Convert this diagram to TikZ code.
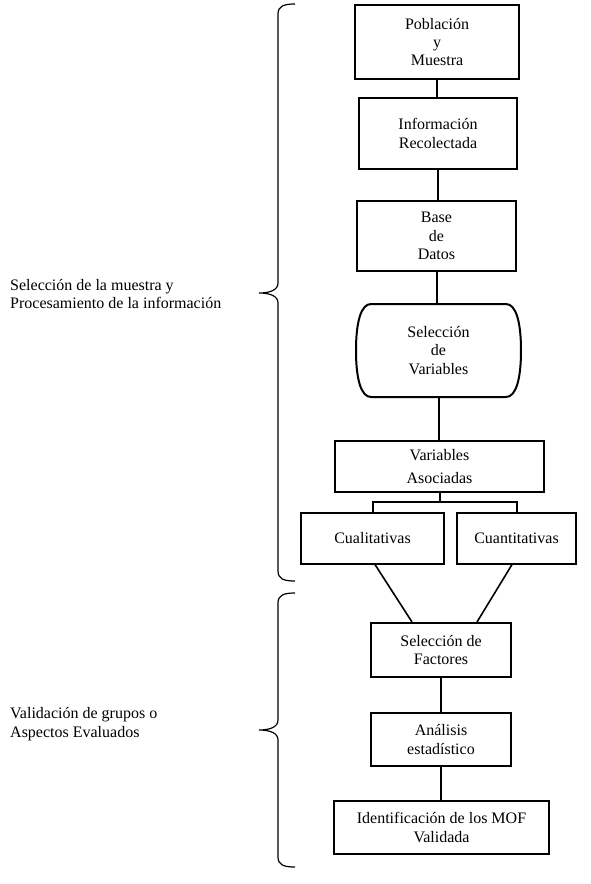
\documentclass[tikz,border=0pt]{standalone}
\usepackage{fontspec}
\setmainfont{Liberation Serif}
\begin{document}
\begin{tikzpicture}[x=1pt,y=-1pt,
  every node/.style={font=\fontsize{16}{18.4}\selectfont, align=center, inner sep=0pt},
  tbox/.style={draw, line width=2pt},
  nbox/.style={draw, line width=1.1pt},
  conn/.style={line width=2pt},
  diag/.style={line width=1.6pt},
  bracepath/.style={line width=1.2pt},
  lab/.style={anchor=west, align=left}]
\useasboundingbox (0,0) rectangle (590,884);
% main column
\node[tbox, minimum width=164pt, minimum height=74pt] (pob) at (437,42) {Población\\y\\Muestra};
\node[tbox, minimum width=158pt, minimum height=71pt] (inf) at (438,133.5) {Información\\Recolectada};
\node[tbox, minimum width=159pt, minimum height=70pt] (bd) at (436.5,236) {Base\\de\\Datos};
\node[minimum width=165pt, minimum height=93pt] (sv) at (438.5,350.5) {Selección\\de\\Variables};
\draw[line width=2pt] (371,304) -- (506,304)
  .. controls (516,304) and (521,322) .. (521,350.5)
  .. controls (521,379) and (516,397) .. (506,397)
  -- (371,397)
  .. controls (361,397) and (356,379) .. (356,350.5)
  .. controls (356,322) and (361,304) .. (371,304) -- cycle;
\node[nbox, minimum width=209pt, minimum height=51pt, font=\fontsize{16}{23}\selectfont] (va) at (439.5,466.5) {Variables\\Asociadas};
\node[nbox, minimum width=143pt, minimum height=51pt] (cual) at (372.5,538.5) {Cualitativas};
\node[nbox, minimum width=119pt, minimum height=51pt] (cuan) at (516.5,538.5) {Cuantitativas};
\node[tbox, minimum width=140pt, minimum height=54pt] (sf) at (441,650) {Selección de\\Factores};
\node[tbox, minimum width=140pt, minimum height=53pt] (ae) at (441,739.5) {Análisis\\estadístico};
\node[tbox, minimum width=215pt, minimum height=53pt] (id) at (441.5,827.5) {Identificación de los MOF\\Validada};
% connectors
\draw[conn] (pob.south) -- (pob.south |- inf.north);
\draw[conn] (inf.south) -- (inf.south |- bd.north);
\draw[conn] (bd.south) -- (bd.south |- sv.north);
\draw[conn] (sv.south) -- (sv.south |- va.north);
\coordinate (bj) at (439.5,502);
\draw[conn] (va.south) -- (va.south |- bj);
\draw[conn] (cual.north) -- (cual.north |- bj) -| (cuan.north);
\coordinate (fl) at ([xshift=-29pt]sf.north);
\coordinate (fr) at ([xshift=36pt]sf.north);
\coordinate (cl) at ([xshift=2.5pt]cual.south);
\coordinate (cr) at ([xshift=-4.5pt]cuan.south);
\draw[diag] (cl) -- (fl);
\draw[diag] (cr) -- (fr);
\draw[conn] (sf.south) -- (sf.south |- ae.north);
\draw[conn] (ae.south) -- (ae.south |- id.north);
% braces
\draw[bracepath] (295,4) .. controls (284,4) and (278,6) .. (278,14) -- (278,283)
  .. controls (278,290) and (270,293) .. (259,293)
  .. controls (270,293) and (278,296) .. (278,303) -- (278,571)
  .. controls (278,579) and (284,581) .. (295,581);
\draw[bracepath] (295,593) .. controls (284,593) and (278,595) .. (278,603) -- (278,720)
  .. controls (278,727) and (270,730) .. (259,730)
  .. controls (270,730) and (278,733) .. (278,740) -- (278,857)
  .. controls (278,865) and (284,867) .. (295,867);
% labels
\node[lab] (l1) at (10,294) {Selección de la muestra y\\Procesamiento de la información};
\node[lab] (l2) at (10,724) {Validación de grupos o\\Aspectos Evaluados};
\end{tikzpicture}
\end{document}
